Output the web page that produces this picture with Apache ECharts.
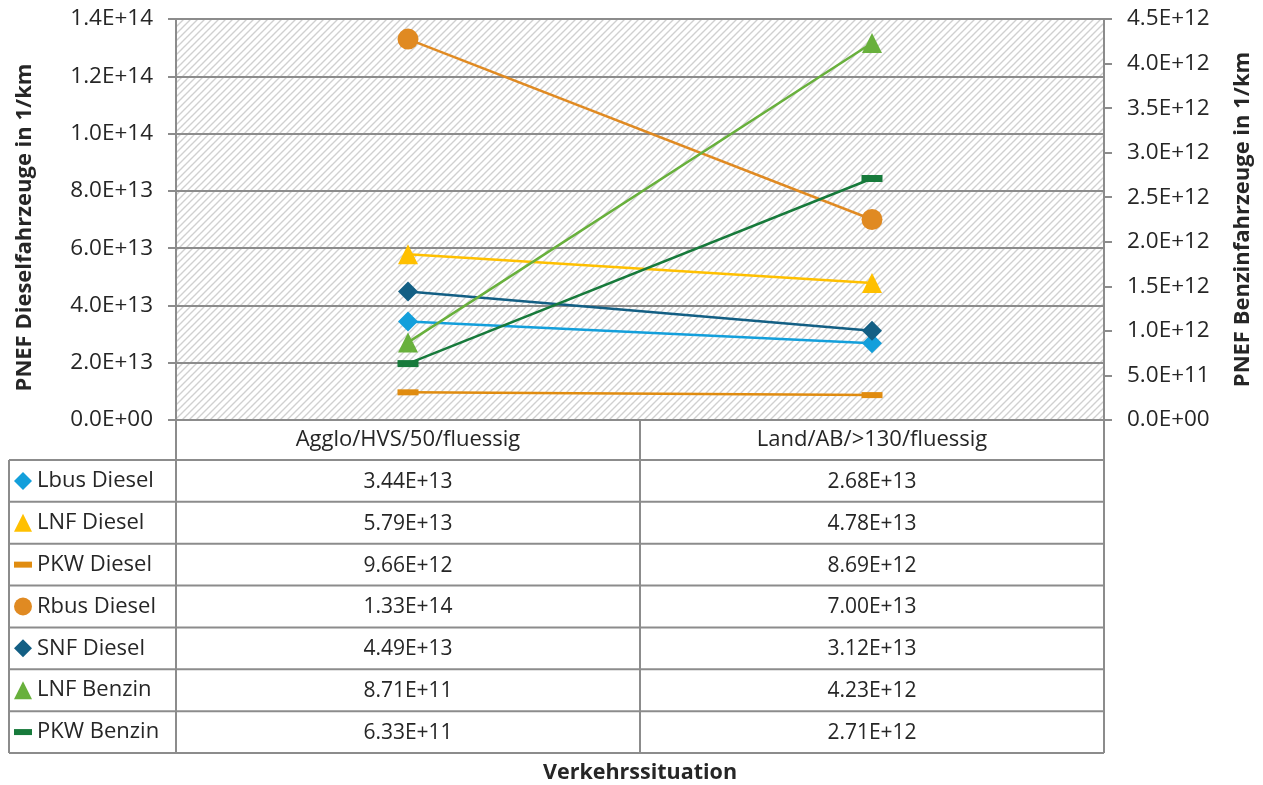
<!DOCTYPE html>
<html>
<head>
<meta charset="utf-8">
<script src="https://cdn.jsdelivr.net/npm/echarts@6/dist/echarts.min.js"></script>
<style>html,body{margin:0;padding:0;background:#fff}#c{width:1263px;height:785px}</style>
</head>
<body>
<div id="c"></div>
<script>
// ---- data ----
const categories = ['Agglo/HVS/50/fluessig', 'Land/AB/>130/fluessig'];
const seriesNames = ['Lbus Diesel', 'LNF Diesel', 'PKW Diesel', 'Rbus Diesel', 'SNF Diesel', 'LNF Benzin', 'PKW Benzin'];
const lbusDiesel = [3.44e13, 2.68e13];
const lnfDiesel = [5.79e13, 4.78e13];
const pkwDiesel = [9.66e12, 8.69e12];
const rbusDiesel = [1.33e14, 7.00e13];
const snfDiesel = [4.49e13, 3.12e13];
const lnfBenzin = [8.71e11, 4.23e12];
const pkwBenzin = [6.33e11, 2.71e12];
const leftAxisTitle = 'PNEF Dieselfahrzeuge in 1/km';
const rightAxisTitle = 'PNEF Benzinfahrzeuge in 1/km';
const xAxisTitle = 'Verkehrssituation';

// ---- styling ----
const FONT = 'Open Sans';
const TXT = '#262626';
const GRAY = '#8c8c8c';
const dashPath = 'path://M0,0h18v6h-18z';
const styles = [
  {data: lbusDiesel, axis: 0, color: '#139fdb', symbol: 'diamond', size: 20, icon: 'diamond'},
  {data: lnfDiesel, axis: 0, color: '#ffc000', symbol: 'triangle', size: 20, icon: 'triangle'},
  {data: pkwDiesel, axis: 0, color: '#e08c10', symbol: 'rect', size: [21, 6], icon: dashPath},
  {data: rbusDiesel, axis: 0, color: '#e08a22', symbol: 'circle', size: 21, icon: 'circle'},
  {data: snfDiesel, axis: 0, color: '#135f84', symbol: 'diamond', size: 20, icon: 'diamond'},
  {data: lnfBenzin, axis: 1, color: '#68b03c', symbol: 'triangle', size: 20, icon: 'triangle'},
  {data: pkwBenzin, axis: 1, color: '#177a3b', symbol: 'rect', size: [21, 7], icon: dashPath}
];

function sci(v, d) {
  if (v === 0) return (0).toFixed(d) + 'E+00';
  let e = Math.floor(Math.log10(Math.abs(v)));
  let m = v / Math.pow(10, e);
  if (Math.round(m * Math.pow(10, d)) / Math.pow(10, d) >= 10) { m /= 10; e += 1; }
  const es = (e < 0 ? '-' : '+') + String(Math.abs(e)).padStart(2, '0');
  return m.toFixed(d) + 'E' + es;
}

function hatch() {
  const s = 7;
  const c = document.createElement('canvas');
  c.width = s; c.height = s;
  const ctx = c.getContext('2d');
  ctx.fillStyle = '#ffffff';
  ctx.fillRect(0, 0, s, s);
  ctx.strokeStyle = '#d0d0d0';
  ctx.lineWidth = 1.4;
  ctx.beginPath();
  ctx.moveTo(-1, s + 1); ctx.lineTo(s + 1, -1);
  ctx.moveTo(-2, 2); ctx.lineTo(2, -2);
  ctx.moveTo(s - 2, s + 2); ctx.lineTo(s + 2, s - 2);
  ctx.stroke();
  return c;
}

// ---- layout ----
const G = {left: 176, right: 1104, top: 19, bottom: 420};
const catRowBottom = 460;
const tableBottom = 753;
const tableLeft = 9;
const rowH = (tableBottom - catRowBottom) / seriesNames.length;
const midX = (G.left + G.right) / 2;

const graphics = [];
function hline(x1, x2, y) {
  graphics.push({type: 'line', silent: true, z: 10, shape: {x1, y1: y, x2, y2: y}, style: {stroke: GRAY, lineWidth: 2}});
}
function vline(x, y1, y2) {
  graphics.push({type: 'line', silent: true, z: 10, shape: {x1: x, y1, x2: x, y2}, style: {stroke: GRAY, lineWidth: 2}});
}
vline(G.left, G.bottom, tableBottom);
vline(midX, G.bottom, tableBottom);
vline(G.right, G.bottom, tableBottom);
vline(tableLeft, catRowBottom, tableBottom);
for (let i = 0; i <= seriesNames.length; i++) {
  hline(tableLeft, G.right, catRowBottom + i * rowH);
}
const colCenters = [(G.left + midX) / 2, (midX + G.right) / 2];
styles.forEach((s, i) => {
  s.data.forEach((v, j) => {
    graphics.push({
      type: 'text', silent: true, z: 11,
      x: colCenters[j], y: catRowBottom + (i + 0.5) * rowH + 1,
      style: {text: sci(v, 2), font: '21px "' + FONT + '"', fill: TXT, align: 'center', verticalAlign: 'middle'}
    });
  });
});

const LEG_H = 22;
const legends = seriesNames.map((n, i) => ({
  orient: 'vertical',
  left: 14,
  top: catRowBottom + i * rowH + (rowH - LEG_H) / 2,
  itemWidth: 18, itemHeight: 18,
  itemGap: 5,
  selectedMode: false,
  padding: 0,
  textStyle: {fontSize: 22, color: TXT, fontFamily: FONT, lineHeight: LEG_H},
  data: [{name: n, icon: styles[i].icon}]
}));

const option = {
  animation: false,
  backgroundColor: '#ffffff',
  textStyle: {fontFamily: FONT},
  grid: {
    left: G.left, right: 1263 - G.right, top: G.top, bottom: 785 - G.bottom,
    outerBoundsMode: 'none', containLabel: false,
    show: true, borderWidth: 0, backgroundColor: {image: hatch(), repeat: 'repeat'}
  },
  legend: legends,
  xAxis: {
    type: 'category',
    data: categories,
    boundaryGap: true,
    name: xAxisTitle,
    nameLocation: 'middle',
    nameGap: 342,
    nameTextStyle: {fontSize: 21.5, fontWeight: 'bold', color: TXT, fontFamily: FONT},
    axisLine: {show: true, lineStyle: {color: GRAY, width: 2}},
    axisTick: {show: false},
    axisLabel: {fontSize: 22, color: TXT, margin: 9, fontFamily: FONT, interval: 0},
    splitLine: {show: false}
  },
  yAxis: [
    {
      type: 'value', min: 0, max: 1.4e14, interval: 2e13,
      name: leftAxisTitle, nameLocation: 'middle', nameGap: 140, nameRotate: 90,
      nameTextStyle: {fontSize: 22, fontWeight: 'bold', color: TXT, fontFamily: FONT, padding: [0, 16, 0, 0]},
      axisLine: {show: true, lineStyle: {color: GRAY, width: 2}},
      axisTick: {show: true, length: 8, lineStyle: {color: GRAY, width: 2}},
      axisLabel: {fontSize: 22.5, color: TXT, margin: 23, fontFamily: FONT, formatter: v => sci(v, 1)},
      splitLine: {show: true, lineStyle: {color: GRAY, width: 2}}
    },
    {
      type: 'value', min: 0, max: 4.5e12, interval: 5e11, position: 'right',
      name: rightAxisTitle, nameLocation: 'middle', nameGap: 128, nameRotate: 90,
      nameTextStyle: {fontSize: 22, fontWeight: 'bold', color: TXT, fontFamily: FONT},
      axisLine: {show: true, lineStyle: {color: GRAY, width: 2}},
      axisTick: {show: true, length: 8, lineStyle: {color: GRAY, width: 2}},
      axisLabel: {fontSize: 22.5, color: TXT, margin: 23, fontFamily: FONT, formatter: v => sci(v, 1)},
      splitLine: {show: false}
    }
  ],
  series: styles.map((s, i) => ({
    name: seriesNames[i],
    type: 'line',
    yAxisIndex: s.axis,
    data: s.data,
    symbol: s.symbol,
    symbolSize: s.size,
    showAllSymbol: true,
    itemStyle: {color: s.color},
    lineStyle: {color: s.color, width: 2.5},
    z: 3 + i
  })),
  graphic: graphics
};

const chart = echarts.init(document.getElementById('c'), null, {renderer: 'canvas'});
chart.setOption(option);
</script>
</body>
</html>
